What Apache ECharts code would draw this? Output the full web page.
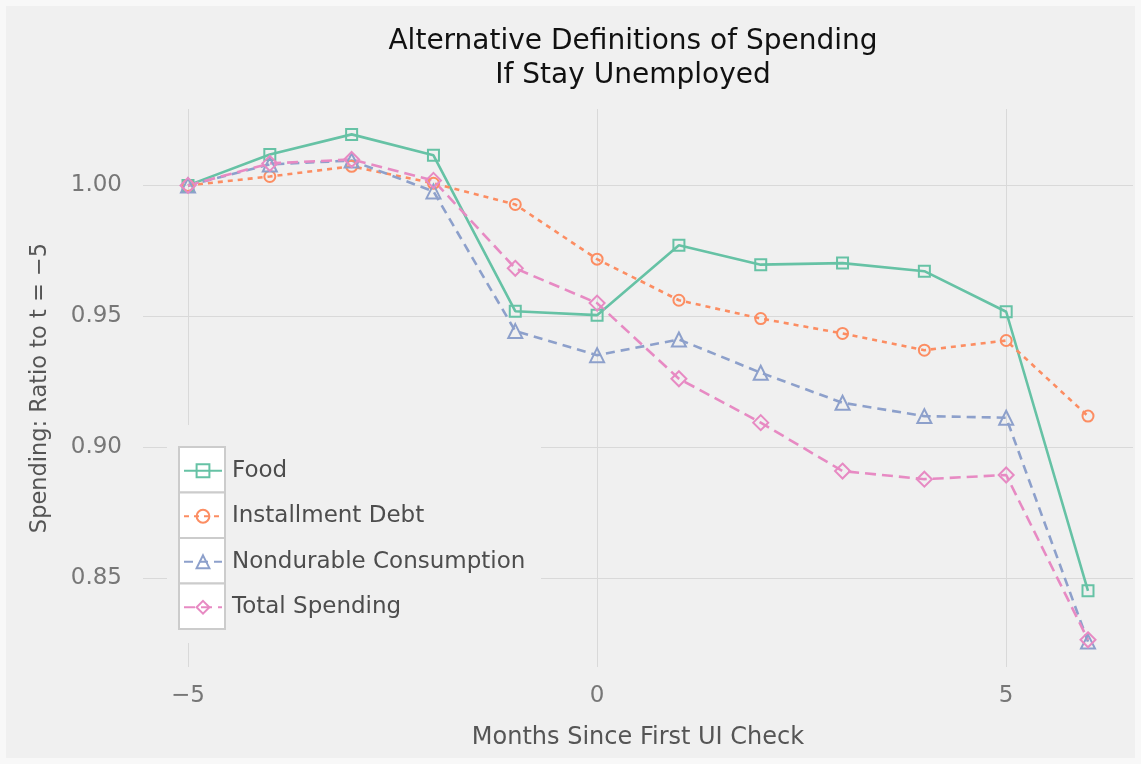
<!DOCTYPE html>
<html>
<head>
<meta charset="utf-8">
<script src="https://cdn.jsdelivr.net/npm/echarts@6/dist/echarts.min.js"></script>
<style>
html, body { margin: 0; padding: 0; background: #f8f8f8; }
#container { width: 1141px; height: 764px; }
</style>
</head>
<body>
<div id="container"></div>
<script type="text/javascript">
    // months since first UI check
    var months = [-5, -4, -3, -2, -1, 0, 1, 2, 3, 4, 5, 6];
    var food        = [1.000, 1.0118, 1.0195, 1.0115, 0.9519, 0.9504, 0.9771, 0.9697, 0.9703, 0.9672, 0.9517, 0.8450];
    var installment = [1.000, 1.0034, 1.0073, 1.0008, 0.9927, 0.9718, 0.9561, 0.9491, 0.9434, 0.9370, 0.9407, 0.9118];
    var nondurable  = [1.000, 1.0080, 1.0095, 0.9977, 0.9443, 0.9351, 0.9411, 0.9284, 0.9169, 0.9118, 0.9112, 0.8256];
    var total       = [1.000, 1.0084, 1.0099, 1.0019, 0.9683, 0.9550, 0.9261, 0.9093, 0.8908, 0.8877, 0.8893, 0.8263];
    var seriesNames = ['Food', 'Installment Debt', 'Nondurable Consumption', 'Total Spending'];
    var xTicks = [-5, 0, 5];
    var yTicks = [0.85, 0.90, 0.95, 1.00];

    var colors = ['#66c2a5', '#fc8d62', '#8da0cb', '#e78ac3'];
    var symbols = ['rect', 'circle', 'triangle', 'diamond'];
    var symbolSizes = [11, 11, 14, 15];
    var dashes = ['solid', [5, 5], [9, 6], [11, 6]];
    var values = [food, installment, nondurable, total];
    var font = 'DejaVu Sans';

    function pairs(vals) {
        return months.map(function (m, i) { return [m, vals[i]]; });
    }

    var series = [];
    var legends = [];
    var graphics = [
        { type: 'rect', z: -10, shape: { x: 6, y: 6, width: 1129, height: 752 }, style: { fill: '#f0f0f0' } },
        { type: 'rect', z: 1, shape: { x: 167, y: 425, width: 374, height: 218 }, style: { fill: '#f0f0f0' } }
    ];
    var rowH = 45.5;
    for (var i = 0; i < 4; i++) {
        series.push({
            name: seriesNames[i],
            type: 'line',
            data: pairs(values[i]),
            symbol: symbols[i],
            symbolSize: symbolSizes[i],
            showAllSymbol: true,
            lineStyle: { color: colors[i], width: 2.6, type: dashes[i] },
            itemStyle: { color: 'rgba(0,0,0,0)', borderColor: colors[i], borderWidth: 2 },
            emphasis: { disabled: true },
            z: 2
        });
        graphics.push({
            type: 'rect', z: 3,
            shape: { x: 179, y: 447 + rowH * i, width: 46, height: rowH },
            style: { fill: '#ffffff', stroke: '#cccccc', lineWidth: 2 }
        });
        legends.push({
            data: [seriesNames[i]],
            left: 183,
            top: 447 + rowH * i + rowH / 2 - 10.5,
            padding: 0,
            itemWidth: 38,
            itemHeight: 16,
            selectedMode: false,
            textStyle: { fontFamily: font, fontSize: 23, color: '#4d4d4d', padding: [0, 0, 0, 5] }
        });
    }

    var dom = document.getElementById("container");
    var myChart = echarts.init(dom);
    var option = {
        backgroundColor: '#f8f8f8',
        animation: false,
        title: {
            text: 'Alternative Definitions of Spending\nIf Stay Unemployed',
            left: 628,
            top: 20,
            textAlign: 'center',
            textStyle: { fontFamily: font, fontSize: 28, fontWeight: 'normal', color: '#111111', lineHeight: 34 }
        },
        legend: legends,
        graphic: graphics,
        grid: { left: 143, right: 8, top: 109, bottom: 97, containLabel: false },
        xAxis: {
            type: 'value',
            min: -5.55,
            max: 6.55,
            name: 'Months Since First UI Check',
            nameLocation: 'middle',
            nameGap: 59,
            nameTextStyle: { fontFamily: font, fontSize: 24, color: '#555555' },
            axisLine: { show: false },
            axisTick: { show: false, customValues: xTicks },
            axisLabel: {
                customValues: xTicks,
                margin: 18,
                fontFamily: font, fontSize: 23, color: '#777777',
                formatter: function (v) { return v < 0 ? '\u2212' + Math.abs(v) : String(v); }
            },
            splitLine: { show: true, lineStyle: { color: '#d9d9d9', width: 1 } }
        },
        yAxis: {
            type: 'value',
            min: 0.8159,
            max: 1.0292,
            name: 'Spending: Ratio to t = \u22125',
            nameLocation: 'middle',
            nameGap: 91,
            nameTextStyle: { fontFamily: font, fontSize: 22.5, color: '#555555' },
            axisLine: { show: false },
            axisTick: { show: false, customValues: yTicks },
            axisLabel: {
                customValues: yTicks,
                margin: 21,
                fontFamily: font, fontSize: 23, color: '#777777',
                formatter: function (v) { return v.toFixed(2); }
            },
            splitLine: { show: true, lineStyle: { color: '#d9d9d9', width: 1 } }
        },
        series: series
    };

    if (option && typeof option === "object") {
        myChart.setOption(option, true);
    }
</script>
</body>
</html>
